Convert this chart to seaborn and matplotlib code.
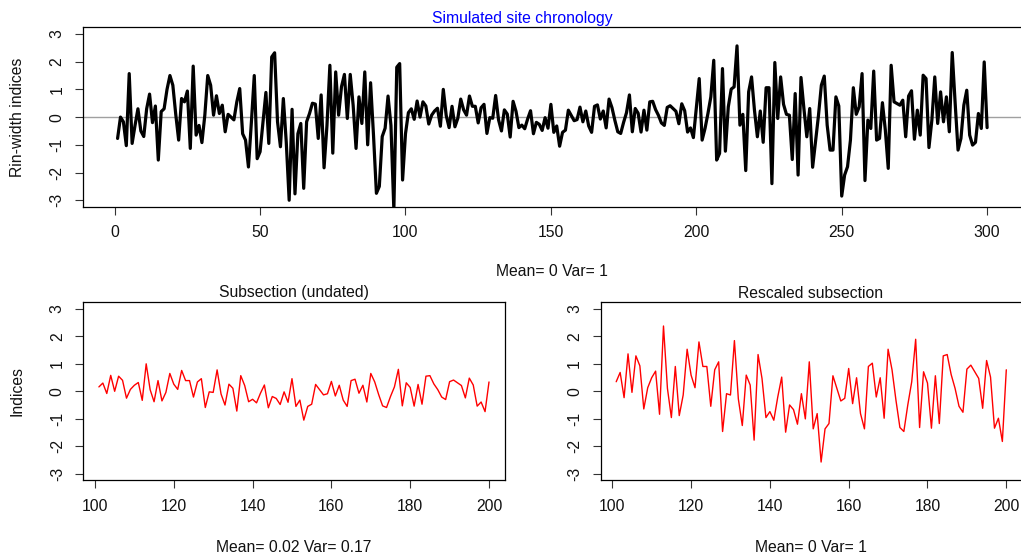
import numpy as np
import pandas as pd
import matplotlib
matplotlib.use("Agg")
import matplotlib.pyplot as plt
import seaborn as sns

# ---- data -------------------------------------------------------------
# site chronology, years 1-100
chron_early = [
    -0.77, 0.00, -0.17, -1.03, 1.57, -0.95, -0.30, 0.30, -0.50, -0.70,
    0.30, 0.83, -0.20, 0.40, -1.55, 0.20, 0.30, 1.00, 1.50, 1.15,
    0.10, -0.83, 0.67, 0.55, 0.94, -1.13, 1.84, -0.65, -0.30, -0.92,
    0.07, 1.50, 1.15, 0.07, 0.77, 0.13, 0.43, -0.53, 0.10, 0.00,
    -0.10, 0.55, 1.03, -0.60, -0.83, -1.80, -0.20, 1.50, -1.50, -1.25,
    -0.17, 0.89, -0.95, 2.17, 2.32, -0.17, -1.07, 0.67, -0.90, -3.00,
    0.28, -2.77, -0.60, -0.23, -2.57, -0.17, 0.13, 0.50, 0.47, -0.77,
    0.80, -1.83, -0.30, 1.87, -1.30, 1.63, 0.07, 1.10, 1.54, -0.05,
    1.54, 0.43, -1.13, 0.73, -0.23, 1.63, -1.00, 1.24, -0.65, -2.75,
    -2.50, -0.70, -0.40, 0.76, -0.30, -3.35, 1.80, 1.93, -2.27, -0.60,
]

# years 101-200 (the undated subsection)
subsection = [
    0.16, 0.30, -0.08, 0.58, 0.00, 0.55, 0.40, -0.25, 0.07, 0.22,
    0.32, -0.33, 1.00, 0.06, -0.38, 0.39, -0.35, -0.04, 0.65, 0.26,
    0.07, 0.76, 0.39, 0.39, -0.21, 0.34, 0.46, -0.59, -0.02, -0.04,
    0.78, -0.10, -0.50, 0.26, 0.11, -0.72, 0.57, 0.21, -0.38, -0.29,
    -0.42, -0.07, 0.23, -0.60, -0.19, -0.26, -0.48, -0.02, -0.40, 0.46,
    -0.55, -0.32, -1.05, -0.55, -0.47, 0.25, 0.06, -0.13, -0.09, 0.36,
    -0.17, 0.22, -0.32, -0.55, 0.39, 0.44, -0.07, 0.22, -0.39, 0.65,
    0.34, -0.12, -0.53, -0.59, -0.19, 0.16, 0.80, -0.53, 0.31, 0.14,
    -0.54, 0.25, -0.47, 0.55, 0.57, 0.27, 0.06, -0.21, -0.30, 0.35,
    0.41, 0.31, 0.21, -0.24, 0.48, 0.23, -0.54, -0.39, -0.74, 0.34,
]

# years 201-300
chron_late = [
    1.39, -0.83, -0.41, 0.13, 0.73, 2.05, -1.55, -1.31, 1.75, -1.23,
    0.37, 1.01, 1.09, 2.57, -0.29, 0.10, -1.93, 0.91, 1.45, 0.25,
    -0.71, 0.22, -0.91, 1.06, 1.06, -2.40, 1.97, -0.05, 1.45, 0.46,
    0.10, 0.07, -1.53, 0.85, -2.09, 1.43, 0.31, -0.71, 0.31, -1.81,
    -0.89, 0.05, 1.15, 1.48, -0.29, -1.19, -1.19, 0.73, 0.40, -2.85,
    -2.09, -1.79, -0.83, 1.06, 0.10, 0.37, 1.57, -2.29, -0.11, -0.41,
    1.66, -0.83, -0.77, 0.52, -0.47, -1.85, 1.87, 0.55, 0.49, 0.43,
    0.61, -0.71, 0.76, 0.95, -0.80, 0.25, -0.65, 1.51, 1.39, -1.10,
    -0.11, 1.45, -0.23, 0.91, -0.17, 0.73, -0.53, 2.33, 0.52, -1.19,
    -0.77, 0.43, 0.97, -0.65, -1.01, -0.91, 0.13, -0.41, 1.99, -0.38,
]

chronology = chron_early + subsection + chron_late
years = list(range(1, 301))
sub_years = list(range(101, 201))

top_title = "Simulated site chronology"
top_stats = "Mean= 0 Var= 1"
sub_title = "Subsection (undated)"
sub_stats = "Mean= 0.02 Var= 0.17"
resc_title = "Rescaled subsection"
resc_stats = "Mean= 0 Var= 1"

top_xticks = [0, 50, 100, 150, 200, 250, 300]
sub_xticks = [100, 120, 140, 160, 180, 200]
yticks = [-3, -2, -1, 0, 1, 2, 3]

# ---- derived series ---------------------------------------------------
sub_arr = np.array(subsection)
rescaled = (sub_arr - sub_arr.mean()) / sub_arr.std(ddof=1)

top_df = pd.DataFrame({"year": years, "index": chronology})
sub_df = pd.DataFrame({"year": sub_years, "index": subsection})
resc_df = pd.DataFrame({"year": sub_years, "index": rescaled})

# ---- figure -----------------------------------------------------------
sns.set_style("white")
plt.rcParams["font.family"] = ["Liberation Sans", "DejaVu Sans"]
plt.rcParams["font.size"] = 11.3
plt.rcParams["axes.unicode_minus"] = False

W, H = 1021, 555
fig = plt.figure(figsize=(W / 100, H / 100), dpi=100)


def px_axes(left, top, right, bottom):
    return fig.add_axes([left / W, 1 - bottom / H, (right - left) / W, (bottom - top) / H])


ax_top = px_axes(82.8, 27.3, 1021.9, 206.9)
ax_sub = px_axes(83.3, 302.3, 504.6, 480.3)
ax_resc = px_axes(600.6, 302.3, 1021.9, 480.3)

ax_top.axhline(0, color="#a0a0a0", linewidth=1.0, zorder=1)
sns.lineplot(data=top_df, x="year", y="index", ax=ax_top, color="black",
             linewidth=2.3, zorder=2)
sns.lineplot(data=sub_df, x="year", y="index", ax=ax_sub, color="#ff0000",
             linewidth=1.0)
sns.lineplot(data=resc_df, x="year", y="index", ax=ax_resc, color="#ff0000",
             linewidth=1.0)

ax_top.set_xlim(-10.96, 311.96)
ax_top.set_xticks(top_xticks)
for ax in (ax_sub, ax_resc):
    ax.set_xlim(97.04, 203.96)
    ax.set_xticks(sub_xticks)

for ax in (ax_top, ax_sub, ax_resc):
    ax.set_ylim(-3.24, 3.24)
    ax.set_yticks(yticks)
    ax.set_xlabel("")
    ax.set_ylabel("")
    for s in ax.spines.values():
        s.set_color("black")
        s.set_linewidth(0.9)
    ax.tick_params(axis="both", direction="out", length=5.8, width=0.8,
                   color="#333333", labelcolor="#111111", pad=7.5,
                   bottom=True, left=True)
    for lab in ax.get_yticklabels():
        lab.set_rotation(90)
        lab.set_verticalalignment("center")


def ftext(x, y, s, **kw):
    fig.text(x / W, 1 - y / H, s, ha="center", va="center", **kw)


ftext(522, 18, top_title, color="#0000ff")
ftext(552, 271, top_stats, color="#111111")
ftext(17, 117, "Rin-width indices", rotation=90, color="#111111")
ftext(294, 293, sub_title, color="#111111")
ftext(294, 548, sub_stats, color="#111111")
ftext(17, 391, "Indices", rotation=90, color="#111111")
ftext(811, 293, resc_title, color="#111111")
ftext(811, 548, resc_stats, color="#111111")

fig.savefig("out.png", dpi=100)
